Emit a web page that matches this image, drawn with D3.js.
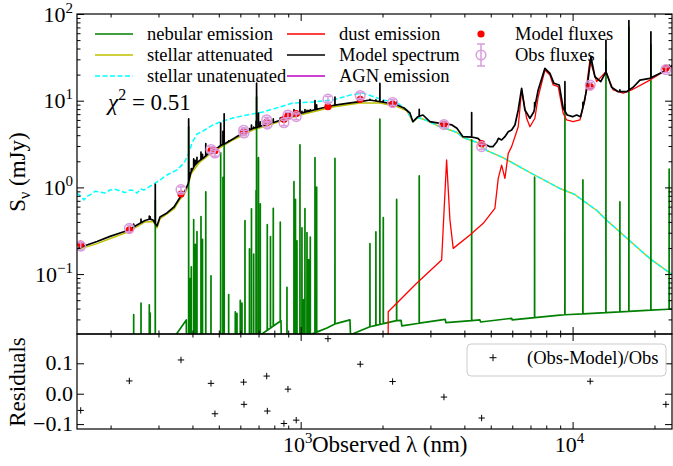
<!DOCTYPE html>
<html><head><meta charset="utf-8">
<script src="https://cdn.jsdelivr.net/npm/d3@7/dist/d3.min.js"></script>
<style>
html,body{margin:0;padding:0;background:#fff;}
svg{display:block;}
text{font-family:"Liberation Serif","Times New Roman",Times,serif;fill:#000;}
</style></head>
<body>
<svg id="chart" width="673" height="466"></svg>
<script>
// ---------------- data (wavelength nm, flux mJy) ----------------
const stellarUnattenuated = [[150.5,0.862],[155.0,0.80],[159.7,0.716],[163.5,0.79],[168.0,0.817],[175.3,0.90],[182.9,0.885],[190.8,0.86],[199.1,0.933],[207.7,0.95],[216.6,0.91],[226.0,0.87],[235.8,0.933],[243.0,0.92],[250.2,0.86],[258.0,0.96],[265.4,0.933],[276.9,1.011],[296.3,1.154],[322.4,1.39],[351.0,1.59],[372.4,1.912],[388.4,2.494],[398.4,3.251],[415.6,4.13],[437.3,4.47],[456.2,4.84],[476.0,5.25],[505.0,5.68],[563.7,6.32],[634.9,6.84],[726.7,7.41],[839.3,8.46],[937.0,9.41],[1110,9.66],[1315,10.19],[1518,11.6],[1694,12.27],[1844,11.18],[2008,10.19],[2259,9.53],[2459,7.81],[2587,5.75],[2700,6.40],[2913,5.91],[3170,5.18],[3336,4.91],[3755,4.30],[3951,3.76],[4449,3.30],[4841,2.66],[5543,2.21],[6966,1.485],[8981,0.971],[10197,0.828],[10912,0.706],[12284,0.5416],[13370,0.415],[14924,0.306],[16243,0.241],[19239,0.151],[23180,0.099]];

const stellarAttenuated = [[150.5,0.190],[178.3,0.225],[233.8,0.310],[267.7,0.399],[286.4,0.405],[296.3,0.340],[303.9,0.432],[342.2,0.563],[359.9,0.725],[375.5,0.862],[385.2,1.011],[395.1,1.427],[422.8,1.912],[460.1,2.364],[505.0,2.847],[563.7,3.52],[667.6,4.59],[804.5,5.53],[994.1,6.84],[1315,8.46],[1652,9.41],[1956,9.41],[2259,8.57],[2459,7.61],[2587,5.68],[2700,6.40],[2913,5.91],[3170,5.18],[3336,4.91],[3755,4.30],[3951,3.76],[4449,3.30],[4841,2.66],[5543,2.21],[6966,1.485],[8981,0.971],[10197,0.828],[10912,0.706],[12284,0.5416],[13370,0.415],[14924,0.306],[16243,0.241],[19239,0.151],[23180,0.099]];

const dustEmission = [[2090,0.0001],[2099,0.0368],[2670,0.0783],[3299,0.1455],[3364,0.503],[3441,2.07],[3539,0.421],[3639,0.198],[4193,0.2825],[4692,0.385],[5179,0.574],[5328,1.27],[5483,1.81],[5637,1.27],[5799,2.47],[5967,2.95],[6137,3.84],[6310,5.01],[6494,13.3],[6776,6.27],[6966,5.01],[7267,6.27],[7472,11.1],[7910,22.6],[8252,19.8],[8487,15.2],[8853,14.5],[9235,7.16],[9504,5.99],[10051,5.72],[10637,5.99],[11097,10.2],[11577,29.5],[12256,16.6],[13262,21.6],[14104,13.3],[15350,12.2],[16480,13.3],[19239,17.3],[23380,25.1]];

const nebularContinuum = [[150.5,0.001],[330.7,0.0159],[379.7,0.0296],[381.9,0.003],[679.2,0.0179],[846.5,0.029],[857,0.003],[990,0.018],[1132,0.0211],[1249,0.0239],[1337,0.0266],[1518,0.0296],[1525,0.0200],[1798,0.0247],[2250,0.029],[2340,0.0293],[2355,0.0253],[3400,0.0301],[3420,0.0276],[4563,0.0296],[4590,0.028],[5967,0.0309],[6000,0.0296],[8981,0.0337],[9774,0.0342],[22460,0.0393],[23400,0.0396]];

// emission lines: [wavelength, peak above continuum]
const nebularLines = [[243.2,0.0288],[258.8,0.0396],[277.6,0.0356],[279.7,0.0266],[292.0,0.70],[387.4,5.0],[392.7,0.0855],[396.1,0.118],[404.2,0.421],[409.7,0.217],[415.6,0.306],[430.0,0.456],[435.5,0.247],[447.8,0.885],[468.0,0.090],[508.0,2.5],[517.9,1.3],[523.2,3.9],[543.6,0.049],[575.0,0.026],[583.2,0.024],[599.7,0.0375],[608.4,0.0337],[624.1,0.399],[648.3,0.180],[659.3,0.549],[671.8,0.153],[685.5,0.9],[688.5,11],[699.6,2.18],[710.4,0.627],[753.8,0.349],[774.5,0.247],[793.1,0.549],[841.4,0.368],[890.5,0.0656],[944.9,1.154],[957.0,0.716],[969.2,0.228],[994.1,3.08],[1011,0.323],[1026,0.032],[1037,0.549],[1055,0.282],[1070,0.127],[1085,0.247],[1129,2.18],[1145,0.984],[1337,2.13],[1798,0.200],[1891,0.282],[1956,6.1],[2013,0.421],[2254,0.697],[2729,1.33],[4254,3.5],[7248,1.28],[9370,9],[10912,1.185],[13262,28.5],[14924,0.643],[16105,70.7],[19404,44],[22650,1.59]];

// model spectrum continuum (lines are added from nebularLines)
const modelContinuum = [[150.5,0.195],[159.7,0.211],[178.3,0.238],[199.1,0.272],[216.6,0.298],[233.8,0.323],[250.2,0.368],[267.7,0.415],[279.3,0.432],[286.4,0.421],[296.3,0.359],[303.9,0.456],[322.4,0.507],[342.2,0.594],[359.9,0.765],[375.5,0.909],[385.2,1.094],[395.1,1.505],[408.6,1.813],[422.8,2.016],[441.1,2.213],[460.1,2.494],[484.1,2.70],[505.0,3.003],[531.4,3.251],[563.7,3.616],[613.7,4.242],[667.6,4.779],[726.7,5.176],[804.5,5.679],[890.5,6.317],[994.1,7.118],[1082,7.606],[1178,8.128],[1315,8.805],[1480,9.333],[1652,9.739],[1798,10.19],[1956,9.739],[2129,9.333],[2259,8.92],[2398,8.237],[2522,7.212],[2587,5.725],[2700,6.54],[2816,6.84],[2988,5.725],[3252,5.487],[3450,5.387],[3600,5.25],[3755,4.805],[3951,3.844],[4301,3.784],[4485,3.684],[4680,3.226],[4966,2.947],[5093,2.947],[5268,3.366],[5336,3.684],[5483,3.522],[5637,3.844],[5799,4.389],[5967,4.592],[6137,5.25],[6310,7.81],[6494,13.9],[6677,7.81],[6966,6.266],[7205,7.465],[7472,13.3],[7910,23.64],[8252,20.7],[8538,15.87],[8928,15.18],[9235,8.17],[9553,6.84],[10000,6.54],[10344,6.84],[10700,6.54],[11002,9.333],[11315,14.5],[11676,31.9],[12078,18.9],[12689,16.56],[13262,21.6],[13910,14.28],[14710,12.7],[15792,12.7],[16700,14.28],[17677,17.3],[19239,18.13],[21534,21.6],[23380,25.8]];

const filterWave  = [155.3,234.4,363,468,484,617,619,750,754,868,898,963,1260,1656,2178,3364,4629,11606,22030];
const modelFluxes = [0.222,0.323,0.839,2.65,2.65,4.39,4.39,5.68,5.68,6.10,6.75,7.12,8.53,10.38,9.16,5.35,3.19,14.5,23.6];
const obsFluxes   = [0.210,0.337,0.944,2.74,2.49,4.56,4.24,6.03,5.37,5.56,6.85,6.55,10.42,11.49,9.54,5.29,2.95,15.12,22.8];
const obsErrors   = [0.02,0.03,0.07,0.2,0.2,0.3,0.3,0.4,0.4,0.4,0.5,0.5,0.8,0.9,0.7,0.4,0.2,1.1,1.7];
const residuals   = [-0.055,0.042,0.111,0.034,-0.066,0.038,-0.035,0.058,-0.057,-0.098,0.015,-0.087,0.181,0.097,0.040,-0.011,-0.080,0.041,-0.035];

const yTickValues = [0.1,1,10,100];
const yTickExp    = ["\u22121","0","1","2"];
const xTickValues = [1000,10000];
const xTickExp    = ["3","4"];
const resTickValues = [-0.1,0,0.1];
const resTickLabels = ["\u22120.1","0.0","0.1"];
const legendLabels = ["nebular emission","stellar attenuated","stellar unatenuated","dust emission","Model spectrum","AGN emission","Model fluxes","Obs fluxes"];
const chiSquared = "0.51";

// ---------------- layout ----------------
const L=77, R=672, T=14, B=334, RB=429;
const svg = d3.select("#chart");
const x  = d3.scaleLog().domain([150.5,23200]).range([L,R]);
const y  = d3.scaleLog().domain([0.02037,100]).range([B,T]);
const yr = d3.scaleLinear().domain([-0.1161,0.1964]).range([RB,B]);

const C = {neb:"#008000", att:"#bfbf00", unatt:"#00ffff", dust:"#ff0000", model:"#000000", agn:"#bf00bf", obs:"#d99cdc"};

svg.append("rect").attr("width",673).attr("height",466).attr("fill","#fff");
svg.append("defs").append("clipPath").attr("id","clipTop")
  .append("rect").attr("x",L).attr("y",T).attr("width",R-L).attr("height",B-T);
const gTop = svg.append("g").attr("clip-path","url(#clipTop)");

function interp(pairs,w){
  if(w<=pairs[0][0]) return pairs[0][1];
  const n=pairs.length;
  if(w>=pairs[n-1][0]) return pairs[n-1][1];
  const i=d3.bisector(d=>d[0]).right(pairs,w)-1;
  const [w0,v0]=pairs[i],[w1,v1]=pairs[i+1];
  const t=Math.log(w/w0)/Math.log(w1/w0);
  return Math.exp(Math.log(v0)+t*Math.log(v1/v0));
}
function withLines(cont){
  const eps=0.0004;
  const pts=cont.filter(d=>!nebularLines.some(l=>Math.abs(d[0]/l[0]-1)<3*eps)).map(d=>[d[0],d[1]]);
  nebularLines.forEach(([w,p])=>{
    pts.push([w*(1-eps),interp(cont,w*(1-eps))]);
    pts.push([w,interp(cont,w)+p]);
    pts.push([w*(1+eps),interp(cont,w*(1+eps))]);
  });
  pts.sort((a,b)=>a[0]-b[0]);
  return pts;
}
const line = d3.line().x(d=>x(d[0])).y(d=>y(Math.max(d[1],1e-6)));

function drawSeries(data,color,width,dash){
  const p=gTop.append("path").datum(data).attr("d",line).attr("fill","none")
    .attr("stroke",color).attr("stroke-width",width).attr("stroke-linejoin","round");
  if(dash) p.attr("stroke-dasharray",dash);
}
drawSeries(stellarAttenuated,C.att,1.4);
drawSeries(stellarUnattenuated,C.unatt,1.5,"5,2.5");
drawSeries(withLines(nebularContinuum),C.neb,1.7);
drawSeries(dustEmission,C.dust,1.3);
drawSeries(withLines(modelContinuum),C.model,1.7);

// model fluxes
gTop.selectAll("circle.mod").data(filterWave).enter().append("circle").attr("class","mod")
  .attr("cx",(d)=>x(d)).attr("cy",(d,i)=>y(modelFluxes[i])).attr("r",3.6).attr("fill",C.dust);
// observed fluxes with error bars
const obsG = gTop.selectAll("g.obs").data(filterWave).enter().append("g").attr("class","obs")
  .attr("stroke",C.obs).attr("fill","none").attr("stroke-width",1.5);
obsG.append("line").attr("x1",d=>x(d)).attr("x2",d=>x(d))
  .attr("y1",(d,i)=>y(obsFluxes[i]-obsErrors[i])).attr("y2",(d,i)=>y(obsFluxes[i]+obsErrors[i]));
obsG.append("line").attr("x1",d=>x(d)-3).attr("x2",d=>x(d)+3)
  .attr("y1",(d,i)=>y(obsFluxes[i]-obsErrors[i])).attr("y2",(d,i)=>y(obsFluxes[i]-obsErrors[i]));
obsG.append("line").attr("x1",d=>x(d)-3).attr("x2",d=>x(d)+3)
  .attr("y1",(d,i)=>y(obsFluxes[i]+obsErrors[i])).attr("y2",(d,i)=>y(obsFluxes[i]+obsErrors[i]));
obsG.append("circle").attr("cx",d=>x(d)).attr("cy",(d,i)=>y(obsFluxes[i])).attr("r",4.8);

// residuals
svg.append("g").selectAll("path").data(filterWave).enter().append("path")
  .attr("d",(d,i)=>{const cx=x(d),cy=yr(residuals[i]);return `M${cx-3.2},${cy}H${cx+3.2}M${cx},${cy-3.2}V${cy+3.2}`;})
  .attr("stroke","#000").attr("stroke-width",1).attr("fill","none");

// ---------------- axes ----------------
function minorLog(lo,hi){const out=[];for(let dec=0.01;dec<1e5;dec*=10){for(let k=2;k<=9;k++){const v=k*dec;if(v>lo&&v<hi)out.push(+v.toPrecision(3));}}return out;}
const yMinor=minorLog(0.02037,100), xMinor=minorLog(150.5,23200);
function axisG(axis,tr){
  const g=svg.append("g").attr("transform",tr).call(axis);
  g.select(".domain").remove(); g.selectAll("text").remove();
  g.selectAll("line").attr("stroke","#000").attr("stroke-width",1);
  return g;
}
// top panel
axisG(d3.axisLeft(y).tickValues(yTickValues).tickSize(-7),`translate(${L},0)`);
axisG(d3.axisLeft(y).tickValues(yMinor).tickSize(-3.5),`translate(${L},0)`);
axisG(d3.axisRight(y).tickValues(yTickValues).tickSize(-7),`translate(${R},0)`);
axisG(d3.axisRight(y).tickValues(yMinor).tickSize(-3.5),`translate(${R},0)`);
[[d3.axisTop,T],[d3.axisBottom,B]].forEach(([f,yy])=>{
  axisG(f(x).tickValues(xTickValues).tickSize(-7),`translate(0,${yy})`);
  axisG(f(x).tickValues(xMinor).tickSize(-3.5),`translate(0,${yy})`);
});
// residual panel
axisG(d3.axisLeft(yr).tickValues(resTickValues).tickSize(-7),`translate(${L},0)`);
axisG(d3.axisRight(yr).tickValues(resTickValues).tickSize(-7),`translate(${R},0)`);
[[d3.axisTop,B],[d3.axisBottom,RB]].forEach(([f,yy])=>{
  axisG(f(x).tickValues(xTickValues).tickSize(-7),`translate(0,${yy})`);
  axisG(f(x).tickValues(xMinor).tickSize(-3.5),`translate(0,${yy})`);
});
// frames
svg.append("rect").attr("x",L).attr("y",T).attr("width",R-L).attr("height",B-T).attr("fill","none").attr("stroke","#000").attr("stroke-width",1.2);
svg.append("rect").attr("x",L).attr("y",B).attr("width",R-L).attr("height",RB-B).attr("fill","none").attr("stroke","#000").attr("stroke-width",1.2);

// tick labels
function sci(px,py,exp,anchor){
  const t=svg.append("text").attr("x",px).attr("y",py).attr("text-anchor",anchor).attr("font-size",22);
  t.append("tspan").text("10");
  t.append("tspan").attr("dy",-9).attr("font-size",15).text(exp);
}
yTickValues.forEach((v,i)=>sci(73,y(v)+7.5,yTickExp[i],"end"));
xTickValues.forEach((v,i)=>sci(x(v)-3,452,xTickExp[i],"middle"));
resTickValues.forEach((v,i)=>svg.append("text").attr("x",73).attr("y",yr(v)+7).attr("text-anchor","end").attr("font-size",22).text(resTickLabels[i]));

// axis labels
svg.append("text").attr("x",312).attr("y",452).attr("font-size",23).text("Observed \u03bb (nm)");
const yl=svg.append("text").attr("transform","translate(25,172) rotate(-90)").attr("text-anchor","middle").attr("font-size",23);
yl.append("tspan").text("S");
yl.append("tspan").attr("dy",5).attr("font-size",16).text("\u03bd");
yl.append("tspan").attr("dy",-5).text(" (mJy)");
svg.append("text").attr("transform","translate(25,382) rotate(-90)").attr("text-anchor","middle").attr("font-size",23).text("Residuals");

// chi2
const ch=svg.append("text").attr("x",108).attr("y",110).attr("font-size",23);
ch.append("tspan").attr("font-style","italic").text("\u03c7");
ch.append("tspan").attr("dy",-10).attr("font-size",16).text("2");
ch.append("tspan").attr("dy",10).text(" = "+chiSquared);

// ---------------- legend ----------------
const lg=svg.append("g").attr("font-size",18.5);
const lineStyles=[[C.neb,1.7,null],[C.att,1.4,null],[C.unatt,1.5,"5,2.5"],[C.dust,1.3,null],[C.model,1.7,null],[C.agn,1.3,null]];
lineStyles.forEach((s,i)=>{
  const col=Math.floor(i/3), row=i%3;
  const hx=95+col*192, cy=34+row*21;
  const l=lg.append("line").attr("x1",hx).attr("x2",hx+38).attr("y1",cy).attr("y2",cy).attr("stroke",s[0]).attr("stroke-width",s[1]);
  if(s[2]) l.attr("stroke-dasharray",s[2]);
  lg.append("text").attr("x",hx+52).attr("y",cy+6).text(legendLabels[i]);
});
lg.append("circle").attr("cx",481).attr("cy",34).attr("r",3.6).attr("fill",C.dust);
lg.append("text").attr("x",515).attr("y",40).text(legendLabels[6]);
const ol=lg.append("g").attr("stroke",C.obs).attr("fill","none").attr("stroke-width",1.5);
ol.append("line").attr("x1",481).attr("x2",481).attr("y1",44).attr("y2",66);
ol.append("line").attr("x1",477).attr("x2",485).attr("y1",44).attr("y2",44);
ol.append("line").attr("x1",477).attr("x2",485).attr("y1",66).attr("y2",66);
ol.append("circle").attr("cx",481).attr("cy",55).attr("r",4.8);
lg.append("text").attr("x",515).attr("y",61).text(legendLabels[7]);

// residual legend
const rl=svg.append("g");
rl.append("rect").attr("x",467).attr("y",344).attr("width",199).attr("height",32).attr("rx",4)
  .attr("fill","#fff").attr("fill-opacity",0.8).attr("stroke","#cccccc").attr("stroke-width",1);
rl.append("path").attr("d","M489.5,357.7H496.5M493,354.2V361.2").attr("stroke","#000").attr("stroke-width",1);
rl.append("text").attr("x",527).attr("y",364).attr("font-size",18.5).text("(Obs-Model)/Obs");
</script>
</body></html>
